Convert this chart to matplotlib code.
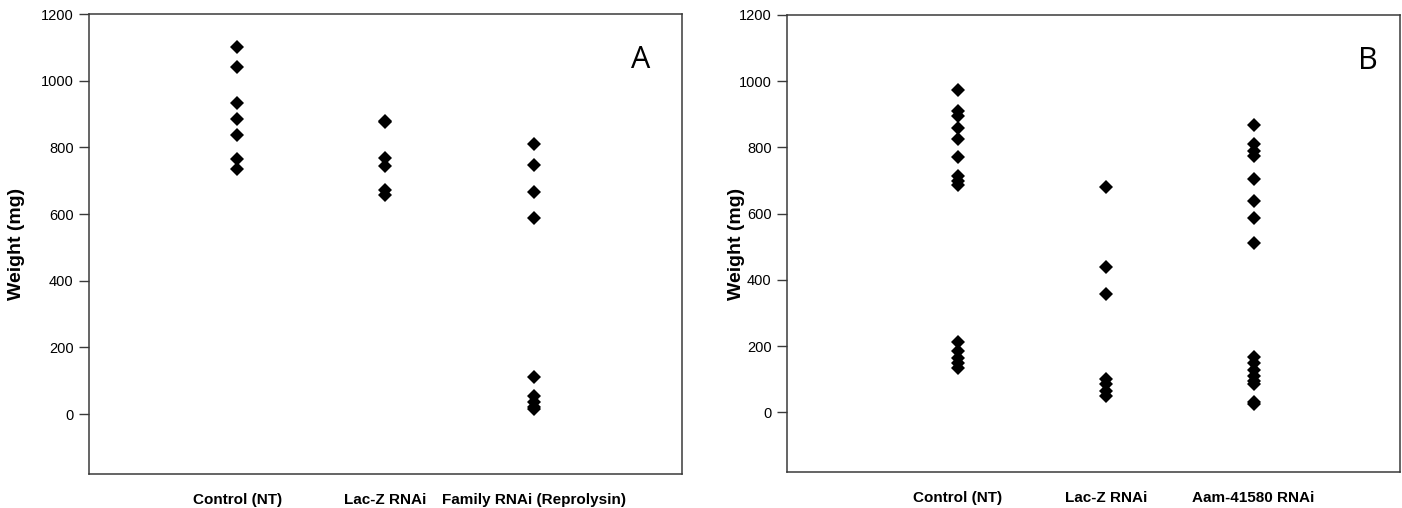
import matplotlib
matplotlib.use("Agg")
import matplotlib.pyplot as plt

plt.rcParams['font.family'] = ['Liberation Sans', 'DejaVu Sans']

# Panel A data (weight in mg)
labels_a = ["Control (NT)", "Lac-Z RNAi", "Family RNAi (Reprolysin)"]
control_a = [1100, 1040, 932, 885, 836, 765, 735]
lacz_a = [880, 877, 768, 745, 672, 657]
family_a = [810, 748, 666, 587, 112, 55, 35, 22, 14]

# Panel B data (weight in mg)
labels_b = ["Control (NT)", "Lac-Z RNAi", "Aam-41580 RNAi"]
control_b = [972, 910, 895, 860, 825, 772, 715, 700, 688, 212, 185, 165, 148, 135]
lacz_b = [680, 438, 358, 102, 85, 65, 48]
aam_b = [868, 810, 790, 775, 705, 637, 588, 510, 168, 148, 128, 110, 95, 85, 32, 24]

yticks = [0, 200, 400, 600, 800, 1000, 1200]

fig = plt.figure(figsize=(14.02, 5.08), dpi=100)
ax_a = fig.add_axes([0.0635, 0.0669, 0.4229, 0.9055])
ax_b = fig.add_axes([0.5613, 0.0709, 0.4373, 0.8996])

spine_col = "#3a3a3a"


def draw_panel(ax, groups, labels, letter, xlim, label_x, letter_xy):
    for i, vals in enumerate(groups):
        ax.plot([i + 1] * len(vals), vals, linestyle="none", marker="D",
                markersize=6.8, color="black", markeredgewidth=0)
    ax.set_xlim(*xlim)
    ax.set_ylim(-180, 1200)
    ax.set_yticks(yticks)
    ax.set_xticks([1, 2, 3])
    ax.set_xticklabels(labels, fontsize=11, fontweight="bold")
    ax.tick_params(axis="x", length=0, pad=14)
    ax.tick_params(axis="y", direction="out", length=7, width=1,
                   color=spine_col, labelsize=10.5, pad=4)
    for s in ax.spines.values():
        s.set_color(spine_col)
        s.set_linewidth(1.1)
    ax.set_ylabel("Weight (mg)", fontsize=14, fontweight="bold")
    ax.yaxis.set_label_coords(label_x, 0.5)
    ax.text(letter_xy[0], letter_xy[1], letter, transform=ax.transAxes,
            fontsize=22, family=["Open Sans", "DejaVu Sans"],
            ha="center", va="center")


draw_panel(ax_a, [control_a, lacz_a, family_a], labels_a, "A",
           (0, 4), -0.108, (0.931, 0.90))
draw_panel(ax_b, [control_b, lacz_b, aam_b], labels_b, "B",
           (-0.155, 3.99), -0.069, (0.948, 0.90))

fig.savefig("out.png", dpi=100)
